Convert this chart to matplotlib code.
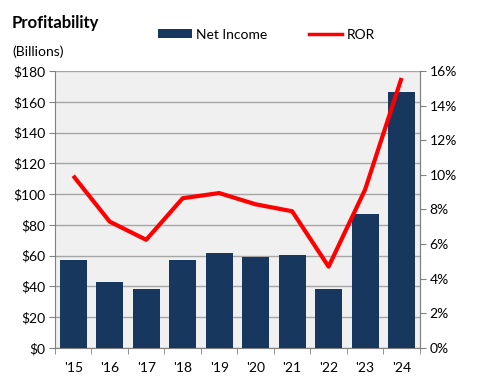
import matplotlib
matplotlib.use("Agg")
import matplotlib.pyplot as plt
from matplotlib.patches import Patch
from matplotlib.lines import Line2D
from matplotlib.ticker import FuncFormatter

years = ["'15", "'16", "'17", "'18", "'19", "'20", "'21", "'22", "'23", "'24"]
net_income = [57, 43, 38.5, 57.5, 62, 59, 60.5, 38.5, 87, 166.5]
ror = [9.95, 7.3, 6.25, 8.65, 8.95, 8.3, 7.9, 4.7, 9.15, 15.6]

plt.rcParams['font.family'] = ['Lato', 'DejaVu Sans']

fig = plt.figure(figsize=(4.82, 3.85), dpi=100)
ax = fig.add_axes([0.114, 0.0961, 0.757, 0.7195])
ax.set_facecolor('#F0F0F0')

x = list(range(len(years)))
ax.bar(x, net_income, width=0.74, color='#17375E', zorder=3)
ax.set_xlim(-0.5, len(years) - 0.5)
ax.set_ylim(0, 180)
ax.set_yticks(range(0, 181, 20))
ax.yaxis.set_major_formatter(FuncFormatter(lambda v, p: f"${int(v)}"))
ax.grid(axis='y', color='#A6A6A6', linewidth=1.0, zorder=1)
ax.set_xticks(x)
ax.set_xticklabels(years)
ax.set_xticks([i + 0.5 for i in range(-1, len(years))], minor=True)
ax.tick_params(axis='x', which='major', length=0, pad=10, labelsize=10)
ax.tick_params(axis='x', which='minor', length=4, color='#808080', direction='out')
ax.tick_params(axis='y', length=4, color='#808080', labelsize=10, pad=3)
ax.spines['top'].set_visible(False)
for s in ['left', 'right', 'bottom']:
    ax.spines[s].set_color('#808080')

ax2 = ax.twinx()
ax2.plot(x, ror, color='#FF0000', linewidth=3, zorder=4, solid_capstyle='butt')
ax2.set_ylim(0, 16)
ax2.set_yticks(range(0, 17, 2))
ax2.yaxis.set_major_formatter(FuncFormatter(lambda v, p: f"{int(v)}%"))
ax2.tick_params(axis='y', length=4, color='#808080', labelsize=10, pad=3)
ax2.spines['top'].set_visible(False)
ax2.spines['right'].set_color('#808080')
ax2.spines['left'].set_visible(False)
ax2.spines['bottom'].set_visible(False)

fig.text(0.025, 0.94, "Profitability", fontsize=12, fontweight='bold', va='center', ha='left')
fig.text(0.025, 0.865, "(Billions)", fontsize=10, va='center', ha='left')

handles = [Patch(facecolor='#17375E', edgecolor='none', label='Net Income'),
           Line2D([0], [0], color='#FF0000', linewidth=2.5, label='ROR')]
fig.legend(handles=handles, loc='center', bbox_to_anchor=(0.553, 0.91), ncol=2,
           frameon=False, fontsize=10, handlelength=2.4, handleheight=0.6,
           columnspacing=3.0, handletextpad=0.3)

fig.savefig("out.png", dpi=100)
